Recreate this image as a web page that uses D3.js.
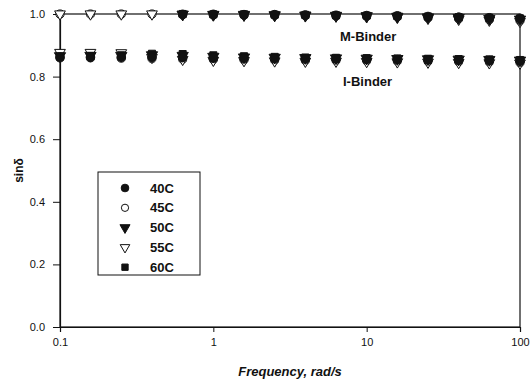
<!DOCTYPE html>
<html>
<head>
<meta charset="utf-8">
<script src="https://cdn.jsdelivr.net/npm/d3@7"></script>
<style>
  body { margin: 0; background: #fff; }
  text { font-family: "Liberation Sans", Arial, sans-serif; fill: #111; }
</style>
</head>
<body>
<div id="chart"></div>
<script>
// frequencies, rad/s (5 per decade)
const freqs = [0.1, 0.158, 0.251, 0.398, 0.631, 1, 1.585, 2.512, 3.981, 6.31, 10, 15.85, 25.12, 39.81, 63.1, 100];

const temps = ["40C", "45C", "50C", "55C", "60C"];

// sin(delta) for M-Binder (null = no point shown)
const mBinder = {
  "40C": [null, null, null, null, 0.999, 0.999, 0.998, 0.998, 0.997, 0.996, 0.995, 0.994, 0.992, 0.990, 0.988, 0.986],
  "45C": [1.0, 1.0, 1.0, 1.0, 0.998, 0.997, 0.997, 0.996, 0.995, 0.994, 0.993, 0.991, 0.988, 0.985, 0.982, 0.979],
  "50C": [null, null, null, null, 0.999, 0.998, 0.998, 0.997, 0.996, 0.995, 0.994, 0.992, 0.990, 0.988, 0.985, 0.983],
  "55C": [1.0, 1.0, 1.0, 1.0, 0.998, 0.997, 0.996, 0.995, 0.994, 0.993, 0.991, 0.989, 0.986, 0.983, 0.980, 0.976],
  "60C": [null, null, null, null, 1.0, 0.999, 0.999, 0.998, 0.997, 0.996, 0.995, 0.994, 0.992, 0.990, 0.988, 0.986]
};

// sin(delta) for I-Binder
const iBinder = {
  "40C": [0.862, 0.862, 0.862, 0.862, 0.861, 0.859, 0.858, 0.857, 0.856, 0.856, 0.855, 0.854, 0.853, 0.852, 0.851, 0.849],
  "45C": [0.860, 0.860, 0.859, 0.858, 0.856, 0.855, 0.854, 0.853, 0.852, 0.852, 0.851, 0.850, 0.849, 0.848, 0.847, 0.845],
  "50C": [0.866, 0.867, 0.867, 0.869, 0.867, 0.864, 0.862, 0.861, 0.860, 0.859, 0.858, 0.857, 0.856, 0.855, 0.854, 0.852],
  "55C": [0.877, 0.877, 0.876, 0.861, 0.855, 0.852, 0.851, 0.850, 0.849, 0.849, 0.848, 0.847, 0.846, 0.845, 0.844, 0.843],
  "60C": [0.864, 0.866, 0.868, 0.873, 0.872, 0.868, 0.865, 0.863, 0.861, 0.860, 0.859, 0.858, 0.857, 0.856, 0.855, 0.853]
};

const xTicks = [0.1, 1, 10, 100];
const yTicks = [0, 0.2, 0.4, 0.6, 0.8, 1.0];

const width = 530, height = 382;
const margin = { top: 14, right: 10, bottom: 55, left: 60 };

const svg = d3.select("#chart").append("svg")
    .attr("width", width)
    .attr("height", height);

const x = d3.scaleLog()
    .domain([0.1, 100])
    .range([margin.left, width - margin.right]);

const y = d3.scaleLinear()
    .domain([0, 1])
    .range([height - margin.bottom, margin.top]);

// marker styles per temperature
const symbolFor = {
  "40C": { type: d3.symbolCircle, size: 58, fill: "#111" },
  "45C": { type: d3.symbolCircle, size: 52, fill: "#fff" },
  "50C": { type: d3.symbolTriangle, size: 55, fill: "#111", rot: 180 },
  "55C": { type: d3.symbolTriangle, size: 50, fill: "#fff", rot: 180 },
  "60C": { type: d3.symbolSquare, size: 50, fill: "#111" }
};

// plot frame
svg.append("rect")
    .attr("x", x(0.1))
    .attr("y", y(1))
    .attr("width", x(100) - x(0.1))
    .attr("height", y(0) - y(1))
    .attr("fill", "none")
    .attr("stroke", "#111")
    .attr("stroke-width", 1.2);

// axes
const xAxis = svg.append("g")
    .attr("transform", `translate(0,${y(0)})`)
    .call(d3.axisBottom(x).tickValues(xTicks).tickFormat(d3.format("~g")).tickSize(5).tickPadding(6));

const yAxis = svg.append("g")
    .attr("transform", `translate(${x(0.1)},0)`)
    .call(d3.axisLeft(y).tickValues(yTicks).tickFormat(d3.format(".1f")).tickSize(7).tickPadding(8));

[xAxis, yAxis].forEach(g => {
  g.select(".domain").attr("stroke", "#111").attr("stroke-width", 1.2);
  g.selectAll(".tick line").attr("stroke", "#111");
  g.selectAll(".tick text").attr("font-size", 11).attr("fill", "#111")
      .attr("font-family", "Liberation Sans, Arial, sans-serif");
});

// axis titles
svg.append("text")
    .attr("x", (x(0.1) + x(100)) / 2)
    .attr("y", 376)
    .attr("text-anchor", "middle")
    .attr("font-size", 13)
    .attr("font-weight", "bold")
    .attr("font-style", "italic")
    .text("Frequency, rad/s");

svg.append("text")
    .attr("transform", `translate(23,${(y(0) + y(1)) / 2}) rotate(-90)`)
    .attr("text-anchor", "middle")
    .attr("font-size", 12)
    .attr("font-weight", "bold")
    .text("sinδ");

// data points: open series underneath, filled ones on top
const drawOrder = ["45C", "55C", "60C", "50C", "40C"];

function drawSeries(data) {
  drawOrder.forEach(t => {
    const s = symbolFor[t];
    svg.append("g").selectAll("path")
        .data(freqs.map((f, i) => [f, data[t][i]]).filter(d => d[1] != null))
        .enter().append("path")
        .attr("d", d3.symbol().type(s.type).size(s.size))
        .attr("transform", d => `translate(${x(d[0])},${y(d[1])})` + (s.rot ? ` rotate(${s.rot})` : ""))
        .attr("fill", s.fill)
        .attr("stroke", "#111")
        .attr("stroke-width", 1);
  });
}

drawSeries(iBinder);
drawSeries(mBinder);

// series labels
svg.append("text")
    .attr("x", 340).attr("y", 41)
    .attr("font-size", 13).attr("font-weight", "bold")
    .text("M-Binder");

svg.append("text")
    .attr("x", 343).attr("y", 86)
    .attr("font-size", 13).attr("font-weight", "bold")
    .text("I-Binder");

// legend
const legend = svg.append("g");

legend.append("rect")
    .attr("x", 98).attr("y", 172)
    .attr("width", 102).attr("height", 103)
    .attr("fill", "#fff")
    .attr("stroke", "#111")
    .attr("stroke-width", 1);

temps.forEach((t, i) => {
  const s = symbolFor[t];
  const cy = 188 + i * 19.8;
  legend.append("path")
      .attr("d", d3.symbol().type(s.type).size(s.size * 0.8))
      .attr("transform", `translate(125,${cy})` + (s.rot ? ` rotate(${s.rot})` : ""))
      .attr("fill", s.fill)
      .attr("stroke", "#111")
      .attr("stroke-width", 1);
  legend.append("text")
      .attr("x", 150).attr("y", cy + 4.5)
      .attr("font-size", 13).attr("font-weight", "bold")
      .text(t);
});
</script>
</body>
</html>
